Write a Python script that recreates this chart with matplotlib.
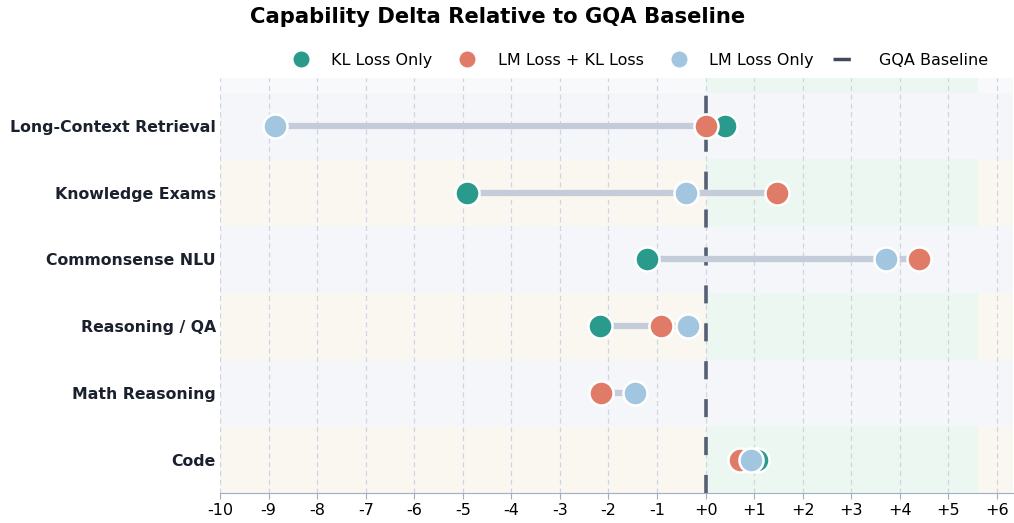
import matplotlib
matplotlib.use("Agg")
import matplotlib.pyplot as plt
from matplotlib.lines import Line2D

# data
categories = ["Code", "Math Reasoning", "Reasoning / QA", "Commonsense NLU",
              "Knowledge Exams", "Long-Context Retrieval"]
kl_only = [1.06, -2.15, -2.17, -1.21, -4.91, 0.40]
lm_kl = [0.71, -2.15, -0.92, 4.39, 1.47, 0.00]
lm_only = [0.93, -1.45, -0.36, 3.71, -0.40, -8.87]
xticks = list(range(-10, 7))

c_kl = "#2a9a8c"
c_lmkl = "#e07b67"
c_lm = "#a3c6e0"

fig = plt.figure(figsize=(10.14, 5.23), dpi=100)
ax = fig.add_axes([0.217, 0.0574, 0.782, 0.7935])
ax.set_facecolor("#f8f9fb")

n = len(categories)
# row bands
for i in range(n):
    if i % 2 == 0:
        ax.axhspan(i - 0.5, i + 0.5, color="#faf7f0", zorder=0, lw=0)
ax.axvspan(0, 5.6, color="#edf7f1", zorder=0.5, lw=0)
for i in range(n):
    if i % 2 == 1:
        ax.axhspan(i - 0.5, i + 0.5, color="#f4f6f9", zorder=1, lw=0)

for t in xticks:
    ax.axvline(t, color="#cdd6e3", lw=0.9, ls=(0, (4, 3)), zorder=1.5)

# baseline
ax.axvline(0, color="#556074", lw=2.6, ls=(0, (5, 5.5)), zorder=2)

for i in range(n):
    vals = [kl_only[i], lm_kl[i], lm_only[i]]
    ax.plot([min(vals), max(vals)], [i, i], color="#c3ccd8", lw=4.5,
            solid_capstyle="butt", zorder=3)

ax.scatter(kl_only, range(n), s=300, color=c_kl, edgecolor="white", lw=1.8, zorder=4)
ax.scatter(lm_kl, range(n), s=300, color=c_lmkl, edgecolor="white", lw=1.8, zorder=5)
ax.scatter(lm_only, range(n), s=300, color=c_lm, edgecolor="white", lw=1.8, zorder=6)

ax.set_xlim(-10, 6.33)
ax.set_ylim(-0.5, 5.72)
ax.set_xticks(xticks)
ax.set_xticklabels([("+%d" % t) if t >= 0 else str(t) for t in xticks], fontsize=11.5)
ax.set_yticks(range(n))
ax.set_yticklabels(categories, fontsize=11.3, fontweight="bold", color="#1a202c")
ax.tick_params(axis="y", length=0, pad=3)
ax.tick_params(axis="x", length=4, color="#a0aec0")
for s in ["top", "right", "left"]:
    ax.spines[s].set_visible(False)
ax.spines["bottom"].set_color("#a0aec0")

handles = [
    Line2D([], [], marker="o", ls="none", ms=12.5, color=c_kl, mec="white"),
    Line2D([], [], marker="o", ls="none", ms=12.5, color=c_lmkl, mec="white"),
    Line2D([], [], marker="o", ls="none", ms=12.5, color=c_lm, mec="white"),
    Line2D([], [], color="#3f4a5c", lw=2.5, ls=(0, (5, 5.5))),
]
ax.legend(handles, ["KL Loss Only", "LM Loss + KL Loss", "LM Loss Only", "GQA Baseline"],
          loc="lower right", bbox_to_anchor=(0.987, 0.99), ncol=4, frameon=False,
          fontsize=11.5, handletextpad=0.9, columnspacing=1.2)

fig.suptitle("Capability Delta Relative to GQA Baseline", x=0.491, y=0.987,
             fontsize=15.2, fontweight="bold")

fig.savefig("out.png", dpi=100)
